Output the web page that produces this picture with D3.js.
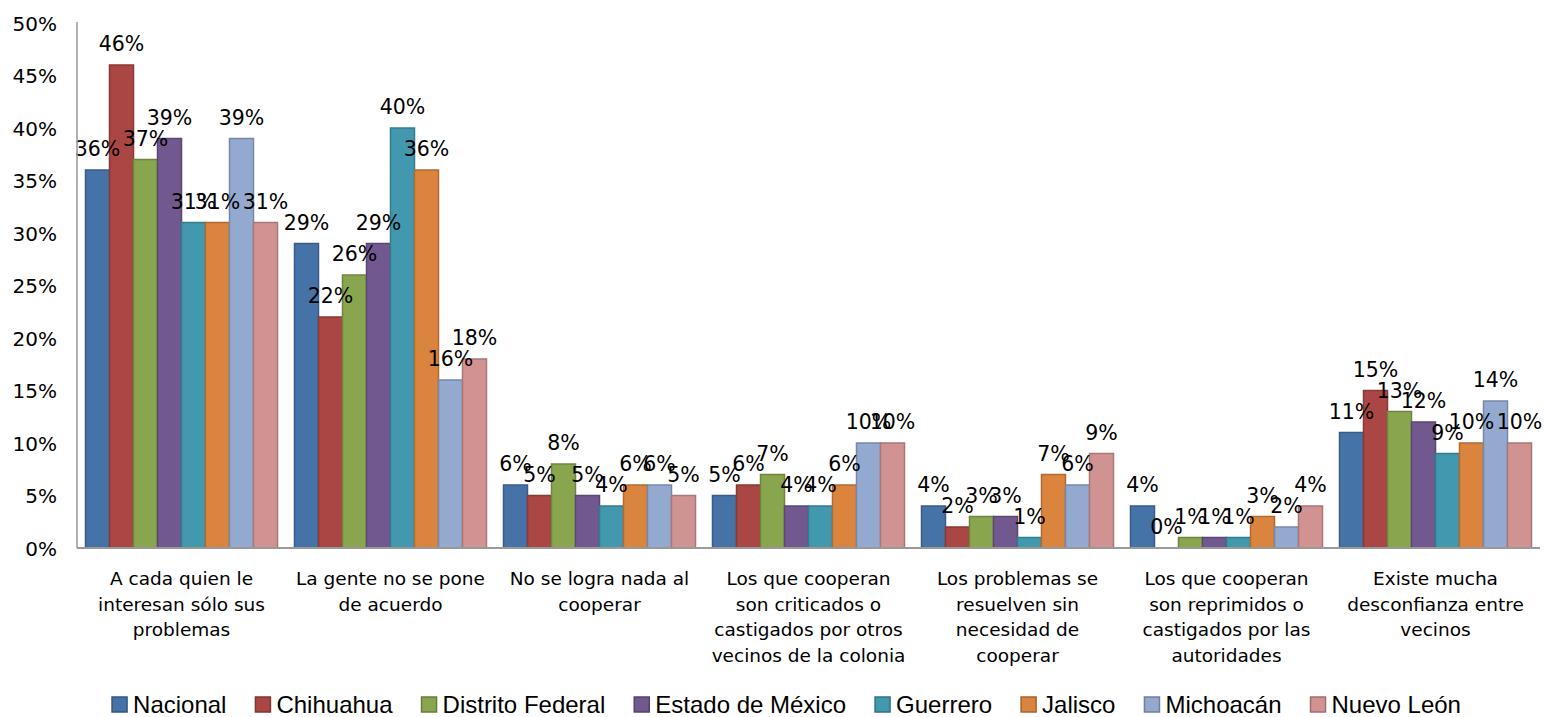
<!DOCTYPE html>
<html>
<head>
<meta charset="utf-8">
<script src="https://cdn.jsdelivr.net/npm/d3@7"></script>
<style>
  body { margin: 0; background: #fff; }
  svg { display: block; }
</style>
</head>
<body>
<svg id="chart" width="1544" height="717"></svg>
<script>
// categories (each label wrapped on lines as in the original)
var categories = [
  ["A cada quien le", "interesan sólo sus", "problemas"],
  ["La gente no se pone", "de acuerdo"],
  ["No se logra nada al", "cooperar"],
  ["Los que cooperan", "son criticados o", "castigados por otros", "vecinos de la colonia"],
  ["Los problemas se", "resuelven sin", "necesidad de", "cooperar"],
  ["Los que cooperan", "son reprimidos o", "castigados por las", "autoridades"],
  ["Existe mucha", "desconfianza entre", "vecinos"]
];
var seriesNames = ["Nacional", "Chihuahua", "Distrito Federal", "Estado de México",
                   "Guerrero", "Jalisco", "Michoacán", "Nuevo León"];

// values in %, one array per state, in category order
var nacional   = [36, 29, 6, 5, 4, 4, 11];
var chihuahua  = [46, 22, 5, 6, 2, 0, 15];
var distrito   = [37, 26, 8, 7, 3, 1, 13];
var edomex     = [39, 29, 5, 4, 3, 1, 12];
var guerrero   = [31, 40, 4, 4, 1, 1, 9];
var jalisco    = [31, 36, 6, 6, 7, 3, 10];
var michoacan  = [39, 16, 6, 10, 6, 2, 14];
var nuevoleon  = [31, 18, 5, 10, 9, 4, 10];
var yTicks = [0, 5, 10, 15, 20, 25, 30, 35, 40, 45, 50];

var series = [nacional, chihuahua, distrito, edomex, guerrero, jalisco, michoacan, nuevoleon];
var colors = ["#4572A7", "#AA4643", "#89A54E", "#71588F", "#4198AF", "#DB843D", "#93A9CF", "#D19392"];

var svg = d3.select("#chart");
var plotLeft = 77, plotRight = 1540, plotTop = 23, plotBottom = 548;

var x0 = d3.scaleBand().domain(d3.range(categories.length)).range([plotLeft, plotRight]).padding(0);
var x1 = d3.scaleBand().domain(d3.range(series.length))
  .range([8.5, x0.bandwidth() - 8.5]).padding(0);
var y = d3.scaleLinear().domain([0, 50]).range([plotBottom, plotTop]);

// y axis labels
svg.append("g").selectAll("text")
  .data(yTicks).enter().append("text")
  .attr("x", 57)
  .attr("y", d => y(d) + 7.5)
  .attr("text-anchor", "end")
  .attr("font-family", "DejaVu Sans, sans-serif")
  .attr("font-size", 20)
  .attr("fill", "#000")
  .text(d => d + "%");

// bars
var groups = svg.append("g").selectAll("g")
  .data(categories).enter().append("g")
  .attr("transform", (d, i) => "translate(" + x0(i) + ",0)");

groups.each(function(c, ci) {
  var g = d3.select(this);
  series.forEach(function(s, si) {
    var v = s[ci];
    g.append("rect")
      .attr("x", x1(si))
      .attr("y", y(v))
      .attr("width", x1.bandwidth())
      .attr("height", plotBottom - y(v))
      .attr("fill", colors[si])
      .attr("stroke", d3.color(colors[si]).darker(0.6))
      .attr("stroke-width", 1.5);
  });
});

// axes lines
svg.append("line").attr("x1", plotLeft).attr("x2", plotLeft).attr("y1", plotTop - 1).attr("y2", plotBottom)
  .attr("stroke", "#999").attr("stroke-width", 1.5);
svg.append("line").attr("x1", plotLeft).attr("x2", plotRight).attr("y1", plotBottom).attr("y2", plotBottom)
  .attr("stroke", "#999").attr("stroke-width", 2);

// data labels
groups.each(function(c, ci) {
  var g = d3.select(this);
  series.forEach(function(s, si) {
    var v = s[ci];
    g.append("text")
      .attr("x", x1(si) + x1.bandwidth() / 2)
      .attr("y", y(v) - 14)
      .attr("text-anchor", "middle")
      .attr("font-family", "DejaVu Sans, sans-serif")
      .attr("font-size", 20.5)
      .attr("fill", "#000")
      .text(v + "%");
  });
});

// category labels
groups.append("text")
  .attr("text-anchor", "middle")
  .attr("font-family", "DejaVu Sans, sans-serif")
  .attr("font-size", 18.5)
  .attr("fill", "#000")
  .each(function(lines) {
    var t = d3.select(this);
    lines.forEach(function(l, li) {
      t.append("tspan")
        .attr("x", x0.bandwidth() / 2)
        .attr("y", 585 + li * 25.5)
        .text(l);
    });
  });

// legend
var legend = svg.append("g");
var lx = 0;
seriesNames.forEach(function(n, i) {
  var item = legend.append("g").attr("transform", "translate(" + lx + ",0)");
  item.append("rect").attr("x", 0).attr("y", -16).attr("width", 15).attr("height", 15)
    .attr("fill", colors[i]).attr("stroke", d3.color(colors[i]).darker(0.8)).attr("stroke-width", 1.5);
  var t = item.append("text").attr("x", 21).attr("y", 0)
    .attr("font-family", "Liberation Sans Narrow, Arial Narrow, sans-serif")
    .attr("font-size", 24).attr("fill", "#000").text(n);
  lx += 21 + t.node().getComputedTextLength() + 29;
});
var lw = lx - 29;
legend.attr("transform", "translate(" + (101 + (1472 - 101) / 2 - lw / 2) + ",713)");
</script>
</body>
</html>
